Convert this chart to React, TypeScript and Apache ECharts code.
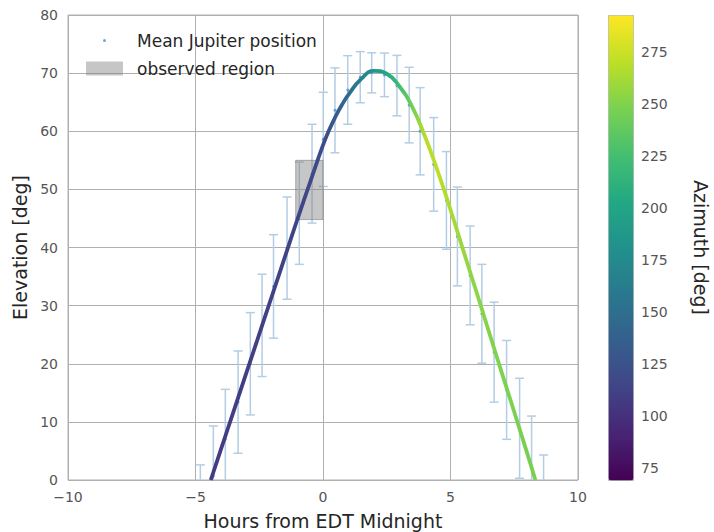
import React, { useEffect, useRef } from 'react';
import * as echarts from 'echarts';

// Smooth curve: hours, elevation, azimuth
const curveHours = [-4.4, -4.0, -3.5, -3.0, -2.5, -2.0, -1.5, -1.0, -0.5, 0.0, 0.25, 0.5, 0.75, 1.0, 1.5, 2.0, 2.5, 3.0, 3.5, 4.0, 4.5, 5.0, 5.5, 6.0, 6.5, 7.0, 7.5, 8.0, 8.33];
const curveElevation = [0, 5.3, 11.9, 18.5, 25.1, 31.7, 38.3, 44.9, 51.3, 57.6, 60.3, 62.6, 64.6, 66.3, 69.0, 70.4, 69.9, 67.7, 64.2, 59.1, 53.1, 46.5, 39.5, 32.6, 25.6, 18.6, 11.7, 4.7, 0];
const curveAzimuth = [108, 108, 109, 110, 111, 112, 113, 115, 117, 121, 126, 132, 140, 148, 166, 184, 203, 225, 245, 268, 270, 264, 258, 254, 251, 249, 248, 247, 247];

// Mean Jupiter position with error bars
const barHours = [-4.81, -4.3, -3.83, -3.33, -2.85, -2.39, -1.94, -1.41, -0.93, -0.43, 0.01, 0.47, 0.97, 1.46, 1.91, 2.41, 2.9, 3.38, 3.81, 4.34, 4.84, 5.27, 5.77, 6.23, 6.71, 7.2, 7.71, 8.18, 8.65];
const barElevation = [-6.0, 0.7, 7.0, 13.4, 20.0, 26.6, 33.3, 39.9, 45.9, 52.7, 58.6, 63.6, 67.1, 69.3, 70.05, 69.7, 67.85, 64.5, 60.0, 54.3, 48.1, 41.9, 35.2, 28.6, 22.0, 15.5, 8.9, 2.3, -4.5];
const barHalfWidth = [8.6, 8.6, 8.6, 8.8, 8.8, 8.8, 8.9, 8.8, 8.8, 8.5, 8.1, 7.3, 5.9, 4.4, 3.45, 3.75, 5.2, 6.5, 7.5, 8.05, 8.4, 8.5, 8.5, 8.5, 8.6, 8.5, 8.6, 8.7, 8.8];

// Observed region
const observedHours = [-1.07, 0];
const observedElevation = [44.8, 55];

// Colorbar
const azimuthRange = [69.2, 292.8];
const colorbarTicks = [75, 100, 125, 150, 175, 200, 225, 250, 275];
const viridis = ['#440154', '#482475', '#414487', '#355f8d', '#2a788e', '#21918c', '#22a884', '#44bf70', '#7ad151', '#bddf26', '#fde725'];

const FONT = 'DejaVu Sans';

export default function App() {
  const ref = useRef<HTMLDivElement>(null);
  useEffect(() => {
    const chart = echarts.init(ref.current!, null, { renderer: 'svg' });

    const x0 = curveHours[0];
    const x1 = curveHours[curveHours.length - 1];
    const stops = curveHours.map((h, i) => ({
      offset: (h - x0) / (x1 - x0),
      color: echarts.color.lerp((curveAzimuth[i] - azimuthRange[0]) / (azimuthRange[1] - azimuthRange[0]), viridis) as string,
    }));

    const minus = (v: number) => (v < 0 ? '\u2212' + Math.abs(v) : String(v));

    const option: any = {
      animation: false,
      backgroundColor: '#ffffff',
      textStyle: { fontFamily: FONT },
      grid: [
        { left: 68, top: 15, width: 510, height: 465, show: true, borderColor: '#b0b0b0', borderWidth: 1, backgroundColor: '#ffffff', outerBoundsMode: 'none', containLabel: false },
        { left: 608, top: 15, width: 25, height: 465, outerBoundsMode: 'none', containLabel: false },
      ],
      xAxis: [
        {
          type: 'value', gridIndex: 0, min: -10, max: 10, interval: 5,
          axisLine: { show: false }, axisTick: { show: false },
          splitLine: { lineStyle: { color: '#b0b0b0', width: 1 } },
          axisLabel: { formatter: minus, fontSize: 14, color: '#555555', margin: 10, fontFamily: FONT },
          name: 'Hours from EDT Midnight', nameLocation: 'middle', nameGap: 31,
          nameTextStyle: { fontSize: 19, color: '#262626', fontFamily: FONT },
        },
        { type: 'value', gridIndex: 1, min: 0, max: 1, show: false },
      ],
      yAxis: [
        {
          type: 'value', gridIndex: 0, min: 0, max: 80, interval: 10,
          axisLine: { show: false }, axisTick: { show: false },
          splitLine: { lineStyle: { color: '#b0b0b0', width: 1 } },
          axisLabel: { formatter: minus, fontSize: 14, color: '#555555', margin: 10, fontFamily: FONT },
          name: 'Elevation [deg]', nameLocation: 'middle', nameGap: 33, nameRotate: 90,
          nameTextStyle: { fontSize: 19, color: '#262626', fontFamily: FONT },
        },
        {
          type: 'value', gridIndex: 1, min: azimuthRange[0], max: azimuthRange[1], position: 'right',
          axisLine: { show: false }, axisTick: { show: false }, splitLine: { show: false },
          axisLabel: { customValues: colorbarTicks, fontSize: 14, color: '#555555', margin: 8, fontFamily: FONT },
          name: 'Azimuth [deg]', nameLocation: 'middle', nameGap: 58, nameRotate: -90,
          nameTextStyle: { fontSize: 19, color: '#262626', fontFamily: FONT },
        },
      ],
      visualMap: {
        type: 'continuous', min: azimuthRange[0], max: azimuthRange[1],
        orient: 'vertical', left: 608, top: 15, itemWidth: 25, itemHeight: 465,
        padding: 0, calculable: false, text: null, showLabel: false,
        inRange: { color: viridis }, seriesIndex: [4], dimension: 1,
        borderColor: '#b8b8b8', borderWidth: 1,
      },
      legend: {
        left: 86, top: 32, orient: 'vertical', padding: 0, itemGap: 11,
        itemWidth: 37, itemHeight: 14, selectedMode: false,
        textStyle: { fontSize: 17, color: '#262626', fontFamily: FONT, lineHeight: 17, padding: [0, 0, 0, 9] },
        data: [
          { name: 'Mean Jupiter position', icon: 'path://M0 0M37 14M17 7a1.5 1.5 0 1 0 3 0a1.5 1.5 0 1 0 -3 0Z' },
          { name: 'observed region', icon: 'rect' },
        ],
      },
      series: [
        {
          name: 'error bars', type: 'custom', xAxisIndex: 0, yAxisIndex: 0, clip: true, z: 2,
          data: barHours.map((h, i) => [h, barElevation[i] - barHalfWidth[i], barElevation[i] + barHalfWidth[i]]),
          renderItem: (params: any, api: any) => {
            const lo = api.coord([api.value(0), api.value(1)]);
            const hi = api.coord([api.value(0), api.value(2)]);
            const cap = 4.5;
            const style = { stroke: '#b3cde4', lineWidth: 1.5 };
            return {
              type: 'group',
              children: [
                { type: 'line', shape: { x1: lo[0], y1: lo[1], x2: hi[0], y2: hi[1] }, style },
                { type: 'line', shape: { x1: lo[0] - cap, y1: lo[1], x2: lo[0] + cap, y2: lo[1] }, style },
                { type: 'line', shape: { x1: hi[0] - cap, y1: hi[1], x2: hi[0] + cap, y2: hi[1] }, style },
              ],
            };
          },
        },
        {
          name: 'Mean Jupiter position', type: 'scatter', xAxisIndex: 0, yAxisIndex: 0, z: 2,
          symbolSize: 3, itemStyle: { color: '#4f8fc6' },
          data: barHours.map((h, i) => [h, barElevation[i]]),
        },
        {
          name: 'observed region', type: 'custom', xAxisIndex: 0, yAxisIndex: 0, z: 3,
          itemStyle: { color: 'rgba(128,128,128,0.45)' },
          data: [[observedHours[0], observedHours[1], observedElevation[0], observedElevation[1]]],
          renderItem: (params: any, api: any) => {
            const a = api.coord([api.value(0), api.value(3)]);
            const b = api.coord([api.value(1), api.value(2)]);
            return {
              type: 'rect',
              shape: { x: a[0], y: a[1], width: b[0] - a[0], height: b[1] - a[1] },
              style: { fill: 'rgba(128,128,128,0.45)', stroke: 'rgba(110,110,110,0.5)', lineWidth: 1 },
            };
          },
        },
        {
          name: 'track', type: 'line', xAxisIndex: 0, yAxisIndex: 0, z: 4,
          smooth: 0.5, showSymbol: false, symbol: 'none',
          lineStyle: { width: 3.8, color: new echarts.graphic.LinearGradient(0, 0, 1, 0, stops) },
          data: curveHours.map((h, i) => [h, curveElevation[i], curveAzimuth[i]]),
        },
        {
          name: 'azimuth scale', type: 'scatter', xAxisIndex: 1, yAxisIndex: 1, data: [], silent: true,
        },
      ],
    };
    chart.setOption(option);
    return () => chart.dispose();
  }, []);
  return <div ref={ref} style={{ position: 'fixed', left: 0, top: 0, width: 714, height: 532, background: '#fff' }} />;
}
